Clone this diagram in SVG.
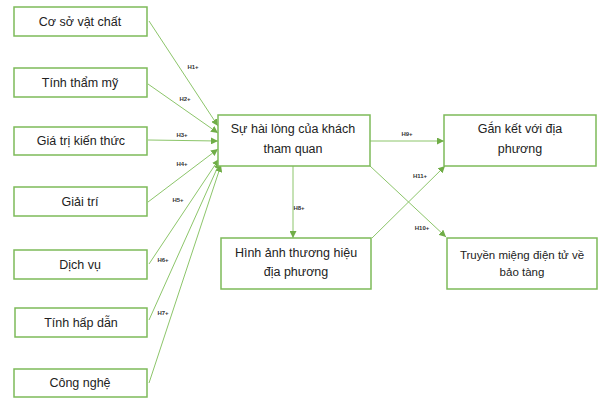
<svg xmlns="http://www.w3.org/2000/svg" width="603" height="398" viewBox="0 0 603 398">
<defs>
<style>
.box{fill:#fff;stroke:#7dba59;stroke-width:1.5}
.t{font-family:"Liberation Sans",Arial,sans-serif;font-size:12.5px;fill:#222;text-anchor:middle}
.ts{font-family:"Liberation Sans",Arial,sans-serif;font-size:11.5px;fill:#222;text-anchor:middle}
.c{stroke:#8cc56a;stroke-width:1;fill:none;marker-end:url(#ah)}
.l{font-family:"Liberation Sans",Arial,sans-serif;font-size:6px;font-weight:bold;fill:#333;text-anchor:middle}
</style>
<marker id="ah" viewBox="0 0 10 10" refX="10" refY="5" markerWidth="7" markerHeight="7" orient="auto" markerUnits="userSpaceOnUse">
<path d="M0,0 L10,5 L0,10 z" fill="#70ad47"/>
</marker>
</defs>
<rect width="603" height="398" fill="#fff"/>
<g id="connectors">
<line class="c" x1="149" y1="21" x2="218" y2="126"/>
<line class="c" x1="148" y1="84" x2="218" y2="133"/>
<line class="c" x1="148" y1="140" x2="218" y2="141"/>
<line class="c" x1="148" y1="202" x2="218" y2="149"/>
<line class="c" x1="149" y1="264" x2="219" y2="159"/>
<line class="c" x1="149" y1="320" x2="220" y2="162"/>
<line class="c" x1="149" y1="383" x2="221" y2="165"/>
<line class="c" x1="293" y1="166" x2="293" y2="238"/>
<line class="c" x1="370" y1="141" x2="444" y2="141"/>
<line class="c" x1="370" y1="166" x2="446" y2="237"/>
<line class="c" x1="372" y1="238" x2="445" y2="166"/>
<text class="l" x="193" y="69">H1+</text>
<text class="l" x="185" y="101">H2+</text>
<text class="l" x="182" y="137">H3+</text>
<text class="l" x="182" y="166">H4+</text>
<text class="l" x="178" y="202">H5+</text>
<text class="l" x="163" y="262">H6+</text>
<text class="l" x="163" y="315">H7+</text>
<text class="l" x="299" y="210">H8+</text>
<text class="l" x="407" y="136">H9+</text>
<text class="l" x="422" y="230">H10+</text>
<text class="l" x="420" y="178">H11+</text>
</g>
<g id="n1"><rect class="box" x="14" y="7" width="133" height="29"/><text class="t" x="80" y="26">Cơ sở vật chất</text></g>
<g id="n2"><rect class="box" x="14" y="68" width="133" height="29"/><text class="t" x="80" y="87">Tính thẩm mỹ</text></g>
<g id="n3"><rect class="box" x="14" y="127" width="133" height="28"/><text class="t" x="81" y="145">Giá trị kiến thức</text></g>
<g id="n4"><rect class="box" x="14" y="187" width="133" height="29"/><text class="t" x="80" y="206">Giải trí</text></g>
<g id="n5"><rect class="box" x="14" y="250" width="133" height="29"/><text class="t" x="80" y="269">Dịch vụ</text></g>
<g id="n6"><rect class="box" x="15" y="308" width="132" height="29"/><text class="t" x="81" y="327">Tính hấp dẫn</text></g>
<g id="n7"><rect class="box" x="14" y="369" width="133" height="28"/><text class="t" x="80" y="387">Công nghệ</text></g>
<g id="n8"><rect class="box" x="218" y="115" width="152" height="51"/><text class="t" x="293" y="133">Sự hài lòng của khách</text><text class="t" x="293" y="153">tham quan</text></g>
<g id="n9"><rect class="box" x="221" y="238" width="150" height="51"/><text class="t" x="296" y="257">Hình ảnh thương hiệu</text><text class="t" x="296" y="276">địa phương</text></g>
<g id="n10"><rect class="box" x="444" y="115" width="152" height="51"/><text class="t" x="520" y="133">Gắn kết với địa</text><text class="t" x="520" y="153">phương</text></g>
<g id="n11"><rect class="box" x="447" y="238" width="150" height="51"/><text class="ts" x="522" y="259">Truyền miệng điện tử về</text><text class="ts" x="522" y="276">bảo tàng</text></g>
</svg>
